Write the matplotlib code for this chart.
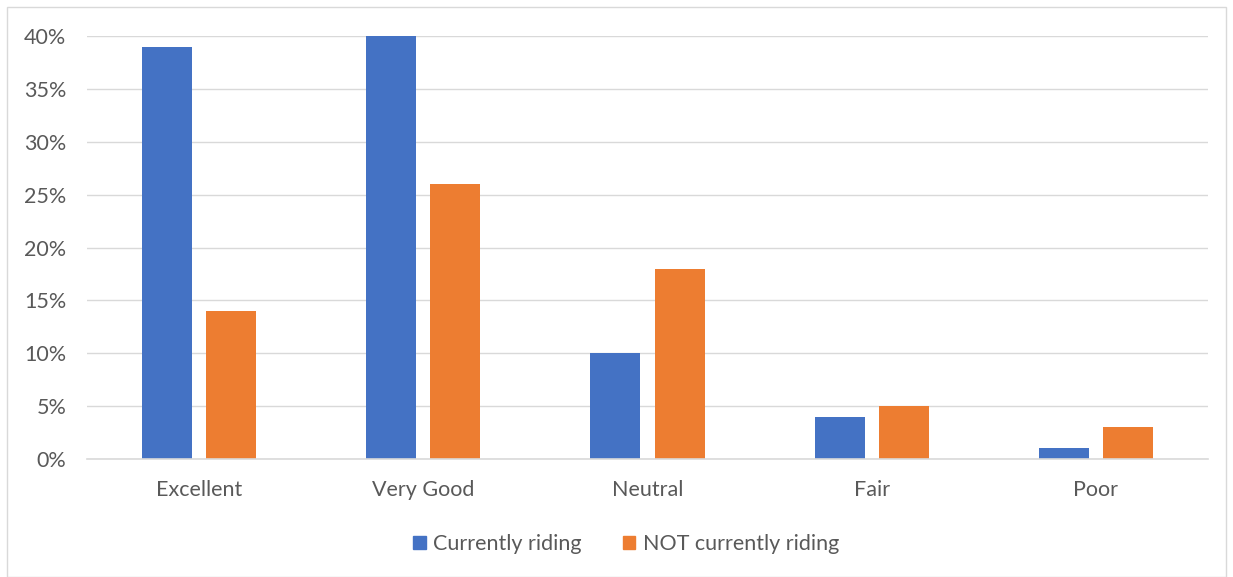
import matplotlib
matplotlib.use('Agg')
from matplotlib import pyplot
import matplotlib.ticker as ticker
from matplotlib.patches import Rectangle, Patch
import numpy

categories = ['Excellent', 'Very Good', 'Neutral', 'Fair', 'Poor']
riding = [0.39, 0.40, 0.10, 0.04, 0.01]
not_riding = [0.14, 0.26, 0.18, 0.05, 0.03]
series_names = ['Currently riding', 'NOT currently riding']

pyplot.rcParams['font.family'] = ['Lato', 'DejaVu Sans']

fig = pyplot.figure(figsize=(12.33, 5.77), dpi=100)
ax = fig.add_axes([87/1233, 1-459/577, (1208-87)/1233, (459-36)/577])

# рамка вокруг всей диаграммы
fig.patches.append(Rectangle((7/1233, 0), (1226-7)/1233, 1-7/577, transform=fig.transFigure,
                             fill=False, edgecolor='#D9D9D9', linewidth=1))

x = numpy.arange(len(categories))
w = 0.223
off = 0.143
ax.bar(x - off, riding, w, color='#4472C4', label=series_names[0], zorder=3)
ax.bar(x + off, not_riding, w, color='#ED7D31', label=series_names[1], zorder=3)

ax.set_xlim(-0.5, len(categories) - 0.5)
ax.set_ylim(0, 0.40)
ax.yaxis.set_major_locator(ticker.MultipleLocator(0.05))
ax.yaxis.set_major_formatter(ticker.FuncFormatter(lambda v, p: '{:.0f}%'.format(v * 100)))
ax.grid(axis='y', color='#D9D9D9', linewidth=1, zorder=0)
ax.set_xticks(x)
ax.set_xticklabels(categories)

for s in ['top', 'right', 'left']:
    ax.spines[s].set_visible(False)
ax.spines['bottom'].set_color('#D9D9D9')
ax.spines['bottom'].set_linewidth(1.2)
ax.spines['bottom'].set_zorder(4)
ax.tick_params(axis='both', length=0, labelsize=15.5, labelcolor='#595959')
ax.tick_params(axis='y', pad=15)
ax.tick_params(axis='x', pad=15)

handles = [Patch(color='#4472C4'), Patch(color='#ED7D31')]
fig.legend(handles, series_names, loc='center', bbox_to_anchor=(626/1233, 1-544/577), ncol=2,
           frameon=False, fontsize=15.5, labelcolor='#595959', handlelength=0.6, handleheight=0.6,
           handletextpad=0.35, columnspacing=1.9)

fig.savefig('out.png', dpi=100)
